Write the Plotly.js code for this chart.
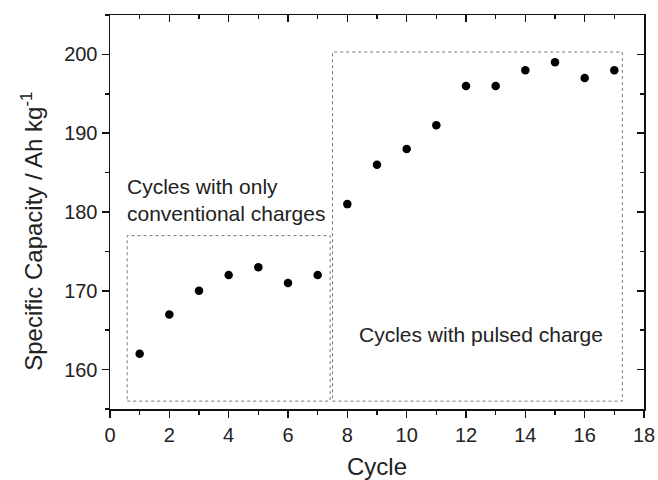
<!DOCTYPE html>
<html>
<head>
<meta charset="utf-8">
<script src="https://cdn.plot.ly/plotly-3.0.1.min.js"></script>
<style>html,body{margin:0;padding:0;background:#fff}#chart{width:658px;height:480px}</style>
</head>
<body>
<div id="chart"></div>
<script>
const cycles = [1,2,3,4,5,6,7,8,9,10,11,12,13,14,15,16,17];
const capacity = [162,167,170,172,173,171,172,181,186,188,191,196,196,198,199,197,198];
const xTitle = 'Cycle';
const yTitle = 'Specific Capacity / Ah kg<sup>-1</sup>';
const labelConventional = 'Cycles with only<br>conventional charges';
const labelPulsed = 'Cycles with pulsed charge';

const FONT = 'Liberation Sans, Arial, sans-serif';
const axisCommon = {
  showgrid: false, zeroline: false, showline: true,
  linecolor: '#111', linewidth: 1.5,
  tickcolor: '#111', tickwidth: 1.5,
  tickfont: {family: FONT, size: 20, color: '#222'}
};

const trace = {
  x: cycles, y: capacity, type: 'scatter', mode: 'markers',
  marker: {color: '#000', size: 8.5, symbol: 'circle'},
  showlegend: false, hoverinfo: 'skip'
};

const layout = {
  width: 658, height: 480,
  margin: {l: 110, r: 14, t: 15, b: 71},
  paper_bgcolor: '#fff', plot_bgcolor: '#fff',
  showlegend: false,
  xaxis: Object.assign({}, axisCommon, {
    range: [0, 18], dtick: 2, tick0: 0, ticks: 'outside', ticklen: 7,
    minor: {dtick: 1, tick0: 0, ticks: 'outside', ticklen: 4, tickcolor: '#111', tickwidth: 1.5},
    title: {text: xTitle, font: {family: FONT, size: 24, color: '#222'}, standoff: 15}
  }),
  yaxis: Object.assign({}, axisCommon, {
    range: [155, 205], dtick: 10, tick0: 0, ticks: 'outside', ticklen: 7,
    minor: {dtick: 5, tick0: 0, ticks: 'outside', ticklen: 4, tickcolor: '#111', tickwidth: 1.5}
  }),
  xaxis2: Object.assign({}, axisCommon, {
    overlaying: 'x', side: 'top', anchor: 'y',
    range: [0, 18], dtick: 2, tick0: 0, ticks: 'inside', ticklen: 7, showticklabels: false,
    minor: {dtick: 1, tick0: 0, ticks: 'inside', ticklen: 4, tickcolor: '#111', tickwidth: 1.5}
  }),
  yaxis2: Object.assign({}, axisCommon, {
    overlaying: 'y', side: 'right', anchor: 'x',
    range: [155, 205], dtick: 10, tick0: 0, ticks: 'inside', ticklen: 7, showticklabels: false,
    minor: {dtick: 5, tick0: 0, ticks: 'inside', ticklen: 4, tickcolor: '#111', tickwidth: 1.5}
  }),
  shapes: [
    {type: 'rect', xref: 'x', yref: 'y', x0: 0.58, x1: 7.42, y0: 156, y1: 177,
     line: {color: '#777', width: 1, dash: 'dot'}, fillcolor: 'rgba(0,0,0,0)', layer: 'below'},
    {type: 'rect', xref: 'x', yref: 'y', x0: 7.5, x1: 17.27, y0: 156, y1: 200.3,
     line: {color: '#777', width: 1, dash: 'dot'}, fillcolor: 'rgba(0,0,0,0)', layer: 'below'}
  ],
  annotations: [
    {text: yTitle, xref: 'paper', yref: 'paper', x: -0.146, y: 0.45, xanchor: 'center', yanchor: 'middle',
     textangle: -90, showarrow: false, font: {family: FONT, size: 24, color: '#222'}},
    {text: labelConventional, xref: 'x', yref: 'y', x: 0.5, y: 181.5, xanchor: 'left', yanchor: 'middle',
     align: 'left', showarrow: false, font: {family: FONT, size: 21, color: '#222'}},
    {text: labelPulsed, xref: 'x', yref: 'y', x: 12.5, y: 164.5, xanchor: 'center', yanchor: 'middle',
     showarrow: false, font: {family: FONT, size: 21, color: '#222'}}
  ]
};

const trace2 = {x: [], y: [], xaxis: 'x2', yaxis: 'y2', type: 'scatter', showlegend: false, hoverinfo: 'skip'};

Plotly.newPlot('chart', [trace, trace2], layout, {staticPlot: true, displayModeBar: false});
</script>
</body>
</html>
